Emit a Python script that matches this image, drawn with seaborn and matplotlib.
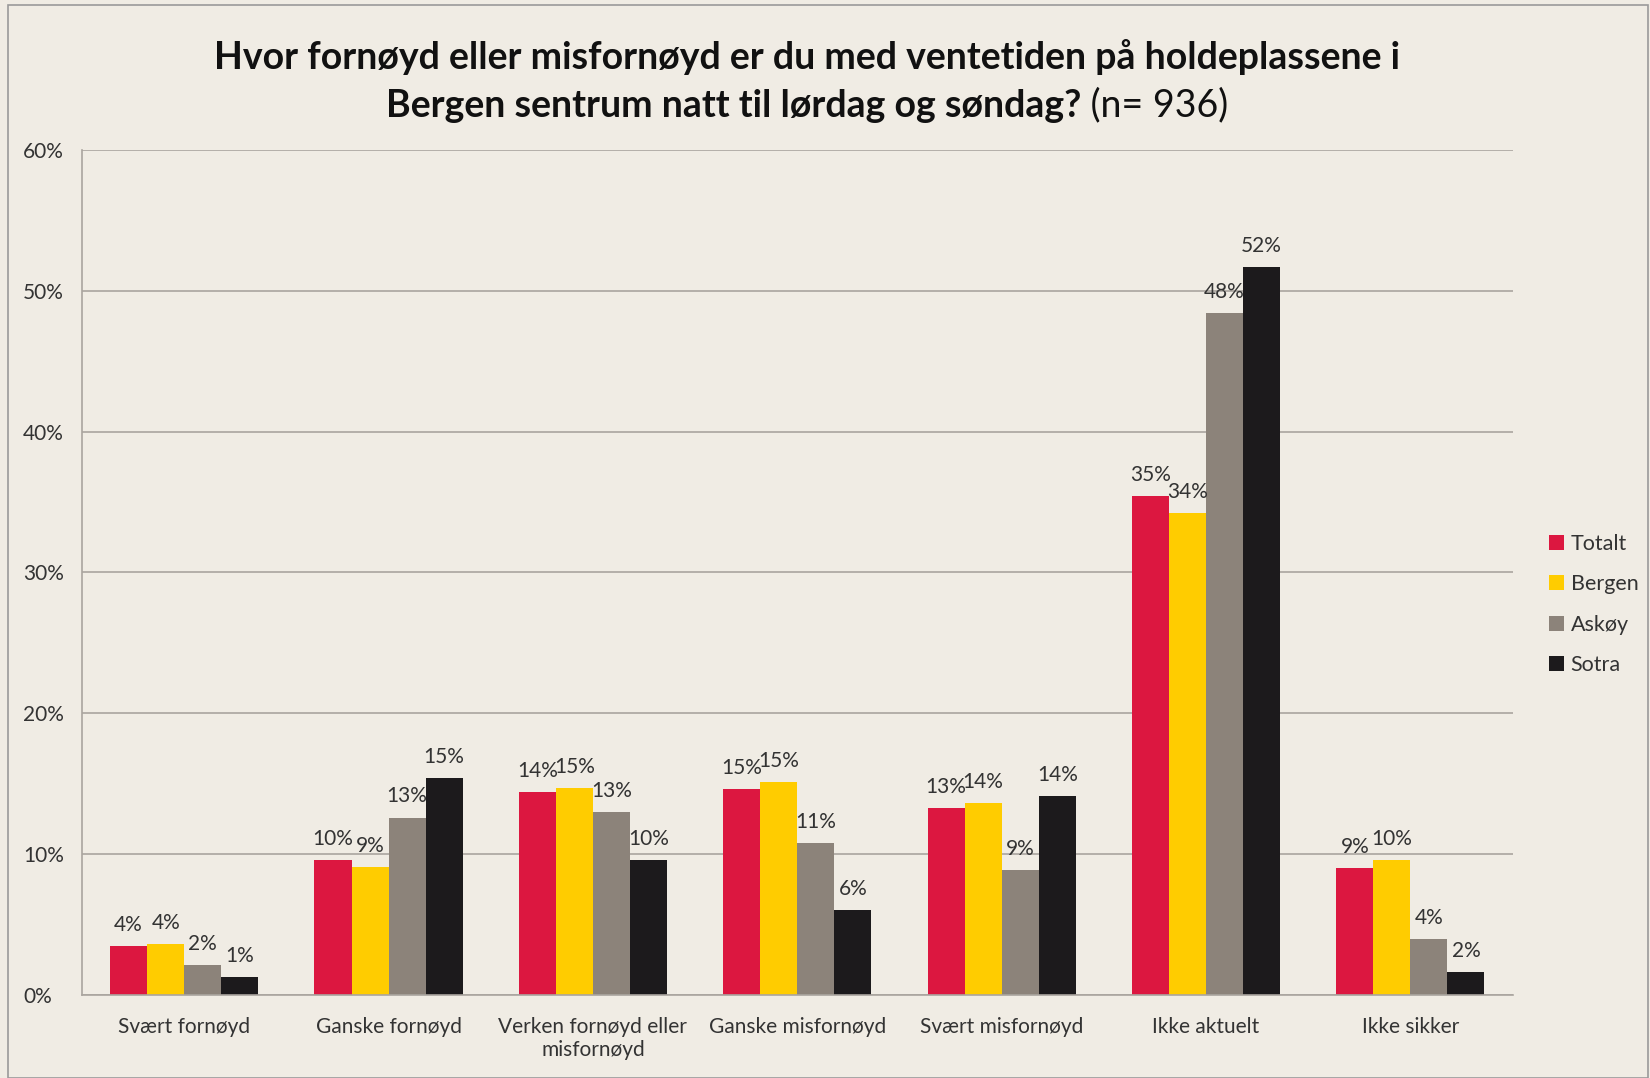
import pandas as pd
import seaborn as sns
import matplotlib.pyplot as plt
from matplotlib.patches import Rectangle

# DATA

categories = ["Svært fornøyd", "Ganske fornøyd", "Verken fornøyd eller\nmisfornøyd",
              "Ganske misfornøyd", "Svært misfornøyd", "Ikke aktuelt", "Ikke sikker"]
groups = ["Totalt", "Bergen", "Askøy", "Sotra"]

totalt = [3.5, 9.6, 14.4, 14.6, 13.3, 35.4, 9.0]
bergen = [3.6, 9.1, 14.7, 15.1, 13.6, 34.2, 9.6]
askoy = [2.1, 12.6, 13.0, 10.8, 8.9, 48.4, 4.0]
sotra = [1.3, 15.4, 9.6, 6.0, 14.1, 51.7, 1.6]

colors = ["#DC1740", "#FFCC00", "#8C837A", "#1C1A1C"]
bg = "#F0ECE4"

df = pd.DataFrame({
    "kategori": categories * 4,
    "gruppe": [g for g in groups for _ in categories],
    "andel": totalt + bergen + askoy + sotra,
})

sns.set_theme(style="white")
plt.rcParams["font.family"] = ["Lato", "DejaVu Sans"]

fig = plt.figure(figsize=(16.5, 10.78), dpi=100)
fig.patch.set_facecolor(bg)
ax = fig.add_axes([0.0497, 0.077, 0.867, 0.784])
ax.set_facecolor(bg)

sns.barplot(data=df, x="kategori", y="andel", hue="gruppe", order=categories,
            hue_order=groups, palette=colors, width=0.725, saturation=1,
            errorbar=None, linewidth=0, ax=ax)

for c in ax.containers:
    ax.bar_label(c, fmt="%.0f%%", padding=8, fontsize=15, color="#333333")

ax.set_ylim(0, 60)
ax.set_yticks(range(0, 61, 10))
ax.set_yticklabels([f"{v}%" for v in range(0, 61, 10)], fontsize=15, color="#333333")
ax.tick_params(axis="x", labelsize=15, colors="#333333", length=0, pad=16)
ax.tick_params(axis="y", length=0, pad=42.5)
for lab in ax.get_yticklabels():
    lab.set_horizontalalignment("left")
ax.set_xlabel("")
ax.set_ylabel("")
ax.yaxis.grid(True, color="#AAA59F", linewidth=1.2)
ax.set_axisbelow(True)
for s in ["top", "right"]:
    ax.spines[s].set_visible(False)
for s in ["left", "bottom"]:
    ax.spines[s].set_color("#AAA59F")
    ax.spines[s].set_linewidth(1.2)

leg = ax.legend(loc="center left", bbox_to_anchor=(1.012, 0.462), frameon=False,
                fontsize=15.5, handlelength=0.7, handleheight=0.7, labelspacing=0.95,
                handletextpad=0.3)
for t in leg.get_texts():
    t.set_color("#333333")

# title, second line partly bold
fig.text(0.489, 0.947, "Hvor fornøyd eller misfornøyd er du med ventetiden på holdeplassene i",
         ha="center", va="center", fontsize=27, fontweight="bold", color="#111111")
t_bold = fig.text(0, 0.902, "Bergen sentrum natt til lørdag og søndag?", ha="left",
                  va="center", fontsize=27, fontweight="bold", color="#111111")
t_norm = fig.text(0, 0.902, " (n= 936)", ha="left", va="center", fontsize=27,
                  color="#111111")
fig.canvas.draw()
r = fig.canvas.get_renderer()
w1 = t_bold.get_window_extent(r).width / fig.bbox.width
w2 = t_norm.get_window_extent(r).width / fig.bbox.width
x0 = 0.489 - (w1 + w2) / 2
t_bold.set_x(x0)
t_norm.set_x(x0 + w1)

fig.patches.append(Rectangle((0.005, 0.0), 0.994, 0.995, transform=fig.transFigure,
                             fill=False, edgecolor="#9A9A9A", linewidth=1.2))

plt.savefig("out.png", dpi=100, facecolor=bg)
plt.close()
